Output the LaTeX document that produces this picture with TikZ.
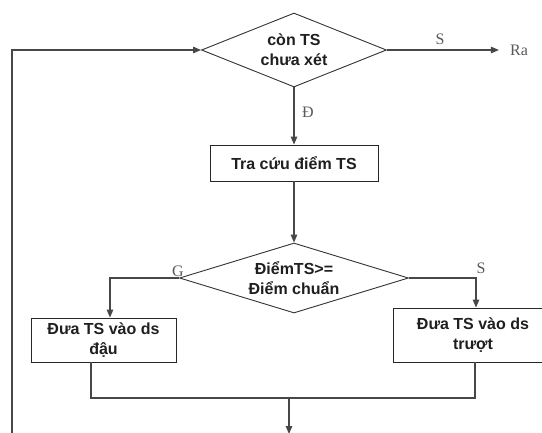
\documentclass[tikz,border=0pt]{standalone}
\usepackage{fontspec}
\setmainfont{Liberation Serif}
\setsansfont{Liberation Sans}
\usetikzlibrary{shapes.geometric,arrows.meta}
\begin{document}
\begin{tikzpicture}[x=1pt,y=-1pt,
  line/.style={draw=black!72, line width=1.2pt},
  arr/.style={line, -{Triangle[length=8pt,width=6.5pt]}},
  boxtext/.style={font=\sffamily\bfseries\fontsize{16}{20}\selectfont, text=black!88, align=center},
  decision/.style={diamond, draw=black!80, line width=0.9pt, inner sep=0pt, boxtext},
  process/.style={rectangle, draw=black!85, line width=0.9pt, inner sep=0pt, boxtext},
  tag/.style={font=\fontsize{16}{18}\selectfont, text=black!65, inner sep=0pt}]
\clip (0,0) rectangle (542,432);
\fill[white] (0,0) rectangle (542,432);

% decisions and steps
\node[decision, minimum width=185pt, minimum height=74pt, aspect=2.5] (loop) at (294,50) {còn TS\\chưa xét};
\node[process, minimum width=168pt, minimum height=36pt] (lookup) at (294,163) {Tra cứu điểm TS};
\node[decision, minimum width=229pt, minimum height=70pt, aspect=3.27] (cmp) at (294,278) {ĐiểmTS>=\\Điểm chuẩn};
\node[process, minimum width=145pt, minimum height=44pt] (pass) at (103.5,340) {Đưa TS vào ds\\đậu};
\node[process, minimum width=160pt, minimum height=54pt] (fail) at (473,335) {Đưa TS vào ds\\trượt};

% exit and loop-back ends
\node[tag] (ra) at (519,50) {Ra};
\coordinate (back) at (12,440);
\coordinate (jl) at (91,398);
\coordinate (jr) at (475,398);
\coordinate (join) at (289,398);
\coordinate (next) at (289,434);

% connectors
\draw[arr] (back) |- (loop.west);
\draw[arr] (loop.east) -- ([xshift=-11pt]ra.west);
\draw[arr] (loop.south) -- (lookup.north);
\draw[arr] (lookup.south) -- (cmp.north);
\draw[arr] (cmp.west) -| ([xshift=6.5pt]pass.north);
\draw[arr] (cmp.east) -| ([xshift=3pt]fail.north);
\draw[line] ([xshift=-12.5pt]pass.south) -- (jl) -- (jr) -- ([xshift=2pt]fail.south);
\draw[arr] (join) -- (next);

% branch labels
\node[tag] (lS) at (440,39) {S};
\node[tag] (lD) at (308,112) {Đ};
\node[tag] (lG) at (178,271) {G};
\node[tag] (lS2) at (481,268) {S};
\end{tikzpicture}
\end{document}
